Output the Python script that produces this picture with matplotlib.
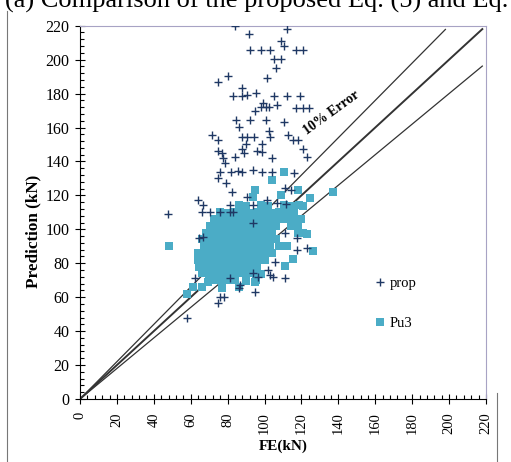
import numpy as np
import matplotlib.pyplot as plt
from matplotlib.lines import Line2D
from matplotlib.ticker import MultipleLocator

# prop: predicted vs FE (kN)
prop_fe = [84.0, 112.0, 91.6, 108.9, 110.7, 92.0, 98.1, 103.0, 117.1, 121.0,
           105.3, 108.8, 106.2, 80.4, 74.6, 101.4, 88.0, 83.1, 87.6, 90.7,
           95.4, 105.3, 112.2, 119.2, 99.0, 98.1, 100.8, 102.6, 106.9, 94.9,
           117.1, 120.7, 124.3, 84.4, 86.3, 92.1, 100.8, 110.6, 102.6, 71.4,
           75.0, 87.6, 90.4, 94.5, 90.0, 98.6, 103.0, 112.9, 115.6, 118.2,
           75.0, 76.8, 87.6, 88.9, 95.8, 98.5, 121.0, 122.9, 77.7, 78.6,
           84.0, 103.9, 75.9, 81.8, 85.8, 87.6, 93.9, 98.5, 103.9, 116.0,
           75.0, 79.1, 82.2, 111.1, 114.4, 90.4, 64.1, 66.8, 66.0, 70.5,
           75.9, 81.3, 81.3, 101.2, 106.6, 47.9, 111.7, 93.9, 83.1, 93.9,
           64.7, 66.8, 111.1, 117.4, 122.9, 117.4, 105.7, 102.1, 103.0, 104.8,
           111.1, 96.6, 93.9, 86.7, 86.3, 94.9, 75.9, 75.0, 81.3, 62.3,
           57.8, 78.0]
prop_pred = [220.0, 217.9, 214.9, 211.1, 208.0, 205.5, 205.5, 205.5, 205.7, 205.7,
             200.4, 200.4, 194.9, 190.5, 186.6, 189.2, 183.3, 178.5, 178.5, 179.1,
             180.5, 178.5, 178.5, 178.5, 174.2, 171.9, 171.9, 171.9, 173.1, 169.7,
             171.5, 171.5, 171.5, 164.4, 160.5, 164.4, 164.4, 163.4, 158.1, 155.6,
             152.6, 154.2, 154.2, 154.2, 150.1, 150.1, 154.6, 155.6, 152.6, 152.6,
             146.3, 145.1, 147.1, 145.1, 146.3, 145.7, 147.1, 142.8, 141.8, 139.2,
             142.8, 141.8, 133.9, 133.9, 134.5, 133.9, 134.9, 133.9, 133.9, 133.0,
             130.1, 127.1, 122.2, 124.2, 123.2, 118.9, 117.3, 114.3, 110.4, 110.4,
             110.4, 114.3, 110.4, 117.3, 115.7, 109.0, 114.9, 114.3, 110.4, 103.5,
             94.7, 95.6, 97.6, 94.7, 88.8, 87.8, 80.9, 76.0, 73.1, 72.1,
             71.1, 72.1, 74.1, 67.2, 65.2, 63.2, 60.3, 56.7, 71.1, 71.1,
             47.6, 60.3]

# Pu3: predicted vs FE (kN)
pu3_fe = [48.0, 57.8, 137.0, 124.5, 118.3, 109.0, 122.9, 126.1, 115.3, 111.0,
          94.9, 76.8, 61.4, 69.5, 110.7, 103.9, 94.9, 93.9, 66.0,
          # y ~ 114
          86.2, 90.1, 98.3, 102.0, 110.4, 114.2, 118.5, 121.1,
          # y ~ 110
          76.1, 80.3, 84.0, 87.8, 92.2, 96.1, 99.7, 104.2, 108.1, 112.3, 116.0,
          # y ~ 106
          72.4, 75.9, 80.2, 84.1, 88.3, 91.8, 96.0, 100.3, 104.0, 108.2, 112.1, 116.3, 120.0,
          # y ~ 102
          70.2, 74.1, 77.8, 82.2, 86.0, 90.3, 94.1, 97.9, 102.2, 106.0, 114.1, 118.3,
          # y ~ 98
          68.3, 72.0, 76.2, 80.1, 84.3, 87.9, 92.0, 96.2, 100.1, 104.3, 118.0, 120.6,
          # y ~ 94
          66.1, 70.3, 74.0, 78.2, 82.1, 85.9, 90.2, 94.0, 98.3, 102.1, 106.2,
          # y ~ 90
          67.2, 71.0, 75.3, 79.1, 83.0, 87.2, 91.1, 95.3, 99.0, 103.2, 108.1, 112.0,
          # y ~ 86
          64.2, 68.1, 72.3, 76.0, 80.2, 84.1, 88.0, 92.2, 96.1, 100.0, 104.3,
          # y ~ 82
          64.0, 68.2, 72.1, 76.3, 80.0, 84.2, 88.1, 92.0, 96.3, 100.2,
          # y ~ 78
          64.3, 68.0, 72.2, 76.1, 80.3, 84.0, 88.2, 92.1, 96.0,
          # y ~ 74
          66.2, 70.1, 74.3, 78.0, 82.2, 86.1, 90.0, 94.2, 98.1,
          # y ~ 70
          72.1, 76.3, 80.0, 84.2, 90.1, 95.2,
          # y ~ 66
          77.2, 86.1]
pu3_pred = [90.3, 62.0, 122.2, 118.3, 122.9, 120.5, 97.2, 87.4, 82.5, 78.2,
            68.8, 65.2, 65.8, 68.7, 134.0, 129.1, 123.2, 118.9, 66.0,
            114.1, 113.8, 114.3, 114.0, 114.2, 113.9, 114.1, 113.7,
            110.2, 109.8, 110.1, 110.3, 109.9, 110.2, 110.0, 109.8, 110.3, 110.1, 109.7,
            106.1, 105.8, 106.2, 106.0, 105.9, 106.3, 106.0, 105.8, 106.2, 106.1, 105.9, 106.0, 106.2,
            102.0, 102.2, 101.8, 102.1, 102.0, 101.9, 102.3, 102.0, 101.8, 102.1, 102.2, 101.9,
            98.1, 97.9, 98.2, 98.0, 97.8, 98.1, 98.3, 97.9, 98.0, 98.2, 98.1, 97.8,
            94.2, 94.0, 93.8, 94.1, 94.3, 93.9, 94.0, 94.2, 93.8, 94.1, 94.0,
            90.1, 89.8, 90.2, 90.0, 89.9, 90.3, 90.0, 89.8, 90.2, 90.1, 89.9, 90.0,
            86.2, 85.9, 86.1, 86.0, 85.8, 86.2, 86.1, 85.9, 86.0, 86.2,  85.8,
            82.1, 81.9, 82.2, 82.0, 81.8, 82.1, 82.0, 82.2, 81.9, 82.0,
            78.0, 78.2, 77.9, 78.1, 78.0, 77.8, 78.2, 78.0, 78.1,
            74.1, 73.9, 74.2, 74.0, 73.8, 74.1, 74.0, 74.2, 73.9,
            70.2, 69.9, 70.1, 70.0, 69.8, 70.2,
            66.1, 66.3]

# error band lines: factor and end of the line on the FE axis
band_factor = [1.1, 1.0, 0.9]
band_end = [198.0, 218.0, 218.0]
band_width = [0.9, 1.4, 0.9]

ticks = np.arange(0, 221, 20)

plt.rcParams['font.family'] = ['Liberation Serif', 'DejaVu Serif']

fig = plt.figure(figsize=(5.11, 4.62), dpi=100)
ax = fig.add_axes([80/511, 1 - 399/462, 406/511, 373.3/462])

for f, e, w in zip(band_factor, band_end, band_width):
    ax.plot([0, e], [0, f*e], color='#333333', lw=w, zorder=2)

ax.plot(pu3_fe, pu3_pred, ls='none', marker='s', ms=5.8, mew=0,
        color='#4bacc6', label='Pu3', zorder=3)
ax.plot(prop_fe, prop_pred, ls='none', marker='+', ms=5.2, mew=1.0,
        color='#1f3864', label='prop', zorder=4)

ax.text(136.5, 168.5, '10% Error', rotation=36, fontsize=10, fontweight='bold',
        ha='center', va='center')

ax.set_xlim(0, 220)
ax.set_ylim(0, 220)
ax.set_xticks(ticks)
ax.set_yticks(ticks)
ax.xaxis.set_minor_locator(MultipleLocator(4))
ax.yaxis.set_minor_locator(MultipleLocator(4))
ax.tick_params(which='major', direction='inout', length=7, width=0.8)
ax.tick_params(which='minor', direction='in', length=3, width=0.8)
ax.tick_params(axis='x', labelrotation=90, labelsize=10.5, pad=6)
ax.tick_params(axis='y', labelsize=11.5, pad=4)

for s in ['top', 'right']:
    ax.spines[s].set_color('#a7a3c4')
for s in ['left', 'bottom']:
    ax.spines[s].set_color('black')

ax.set_xlabel('FE(kN)', fontsize=11, fontweight='bold', labelpad=4)
ax.set_ylabel('Prediction (kN)', fontsize=12.3, fontweight='bold')
ax.yaxis.set_label_coords(-0.094, 0.45)

h, l = ax.get_legend_handles_labels()
ax.legend(h[::-1], l[::-1], loc='upper left', bbox_to_anchor=(0.695, 0.362),
          frameon=False, fontsize=10.5, handlelength=0.6, handletextpad=0.4,
          labelspacing=1.85)

fig.text(0.01, 1 - 8/462, '(a) Comparison of the proposed Eq. (5) and Eq. (6)',
         fontsize=19, va='baseline', ha='left')
fig.add_artist(Line2D([7/511, 7/511], [0, 1 - 11/462], color='#777777', lw=0.8))
fig.add_artist(Line2D([497/511, 497/511], [0, 1 - 393/462], color='#777777', lw=0.8))

fig.savefig('out.png', dpi=100)
